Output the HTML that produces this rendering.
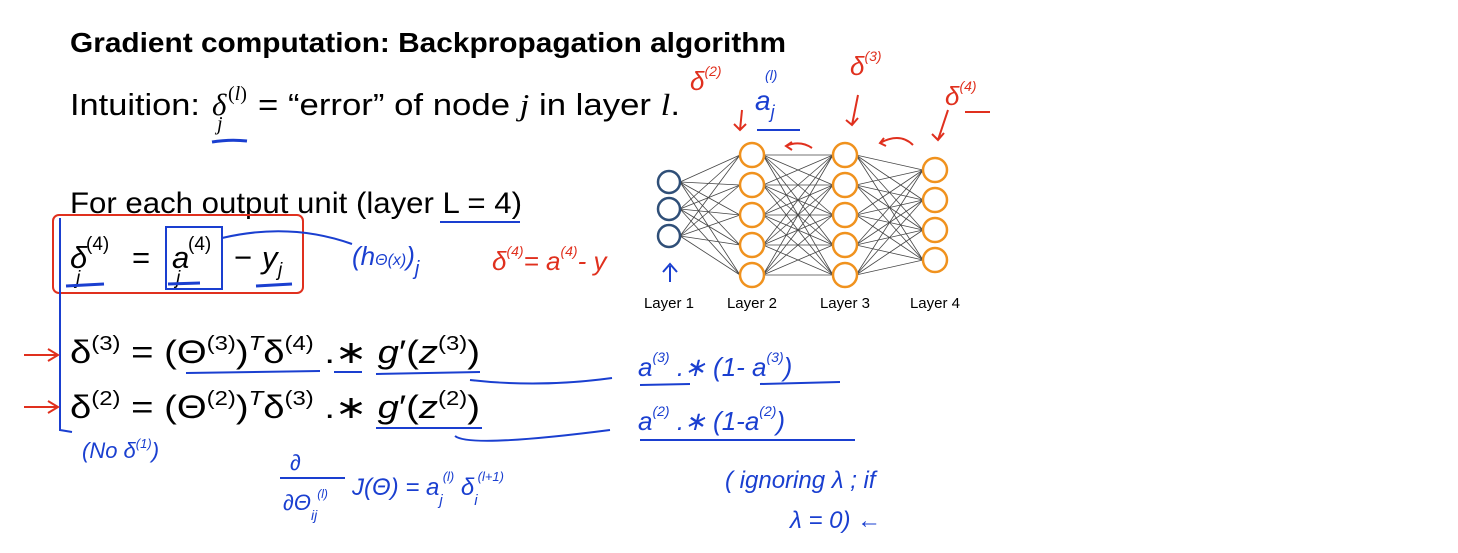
<!DOCTYPE html>
<html><head><meta charset="utf-8"><style>
body{margin:0;background:#fff;width:1458px;height:548px;overflow:hidden}
svg text{font-family:"Liberation Sans",sans-serif}
.m{font-family:"Liberation Serif",serif}
</style></head><body>
<svg width="1458" height="548" xmlns="http://www.w3.org/2000/svg">
<rect width="1458" height="548" fill="#fff"/>
<text x="70" y="52" font-size="28" font-weight="bold" fill="#000" textLength="716" lengthAdjust="spacingAndGlyphs">Gradient computation: Backpropagation algorithm</text>
<g font-size="31" fill="#000">
<text x="70" y="115" textLength="130" lengthAdjust="spacingAndGlyphs">Intuition:</text>
<text class="m" x="212" y="115" font-style="italic">δ</text>
<text class="m" x="217" y="130" font-size="20" font-style="italic">j</text>
<text class="m" x="228" y="100" font-size="20">(<tspan font-style="italic">l</tspan>)</text>
<text x="258" y="115" textLength="422" lengthAdjust="spacingAndGlyphs">= “error” of node <tspan class="m" font-style="italic">j</tspan> in layer <tspan class="m" font-style="italic">l</tspan>.</text>
</g>
<path d="M212 142 Q230 139 247 141" stroke="#1a3fd0" stroke-width="3" fill="none"/>
<text x="70" y="213" font-size="30" fill="#000" textLength="452" lengthAdjust="spacingAndGlyphs">For each output unit (layer L = 4)</text>
<path d="M440 222 L520 222" stroke="#1a3fd0" stroke-width="2" fill="none"/>
<g class="m" font-size="31" fill="#000">
<text x="70" y="268" font-style="italic">δ</text><text x="76" y="284" font-size="19" font-style="italic">j</text><text x="86" y="250" font-size="19">(4)</text>
<text x="132" y="268">=</text>
<text x="172" y="268" font-style="italic">a</text><text x="176" y="284" font-size="19" font-style="italic">j</text><text x="188" y="250" font-size="19">(4)</text>
<text x="234" y="268">−</text><text x="262" y="268" font-style="italic">y</text><text x="278" y="276" font-size="19" font-style="italic">j</text>
</g>
<rect x="53" y="215" width="250" height="78" rx="6" fill="none" stroke="#e0301e" stroke-width="2"/>
<rect x="166" y="227" width="56" height="62" fill="none" stroke="#1a3fd0" stroke-width="2"/>
<path d="M60 218 L60 430 L72 432" stroke="#1a3fd0" stroke-width="2" fill="none"/>
<g stroke-width="3" fill="none"><path d="M66 286 L104 284" stroke="#1a3fd0"/><path d="M168 284 L200 283" stroke="#1a3fd0"/><path d="M256 286 L292 284" stroke="#1a3fd0"/></g>
<path d="M222 238 Q290 222 352 244" stroke="#1a3fd0" stroke-width="2" fill="none"/>
<text x="352" y="265" font-size="26" fill="#1a3fd0" font-style="italic">(h<tspan font-size="16">Θ</tspan><tspan font-size="16">(x)</tspan>)<tspan dy="10" font-size="20">j</tspan></text>
<text x="492" y="270" font-size="26" fill="#e0301e" font-style="italic">δ<tspan dy="-14" font-size="14">(4)</tspan><tspan dy="14">= a</tspan><tspan dy="-14" font-size="14">(4)</tspan><tspan dy="14">- y</tspan></text>
<g class="m" font-size="32" fill="#000">
<text x="70" y="363" textLength="410" lengthAdjust="spacingAndGlyphs">δ<tspan dy="-13" font-size="20">(3)</tspan><tspan dy="13"> = (Θ</tspan><tspan dy="-13" font-size="20">(3)</tspan><tspan dy="13">)</tspan><tspan dy="-13" font-size="20" font-style="italic">T</tspan><tspan dy="13">δ</tspan><tspan dy="-13" font-size="20">(4)</tspan><tspan dy="13"> .∗ </tspan><tspan font-style="italic">g</tspan>′(<tspan font-style="italic">z</tspan><tspan dy="-13" font-size="20">(3)</tspan><tspan dy="13">)</tspan></text>
<text x="70" y="418" textLength="410" lengthAdjust="spacingAndGlyphs">δ<tspan dy="-13" font-size="20">(2)</tspan><tspan dy="13"> = (Θ</tspan><tspan dy="-13" font-size="20">(2)</tspan><tspan dy="13">)</tspan><tspan dy="-13" font-size="20" font-style="italic">T</tspan><tspan dy="13">δ</tspan><tspan dy="-13" font-size="20">(3)</tspan><tspan dy="13"> .∗ </tspan><tspan font-style="italic">g</tspan>′(<tspan font-style="italic">z</tspan><tspan dy="-13" font-size="20">(2)</tspan><tspan dy="13">)</tspan></text>
</g>
<g stroke="#1a3fd0" stroke-width="2" fill="none">
<path d="M186 373 L320 371 M334 372 L362 372 M376 374 L480 372"/>
<path d="M376 428 L482 428 M455 436 Q470 448 610 430"/>
<path d="M470 380 Q540 388 612 378"/>
<path d="M640 385 L690 384 M760 384 L840 382 M640 440 L855 440"/>
</g>
<g stroke="#e0301e" stroke-width="2" fill="none">
<path d="M24 355 L58 355 M48 349 L58 355 L48 361"/>
<path d="M24 407 L58 407 M48 401 L58 407 L48 413"/>
</g>
<text x="638" y="376" font-size="26" fill="#1a3fd0" font-style="italic">a<tspan dy="-14" font-size="14">(3)</tspan><tspan dy="14"> .∗ (1- a</tspan><tspan dy="-14" font-size="14">(3)</tspan><tspan dy="14">)</tspan></text>
<text x="638" y="430" font-size="26" fill="#1a3fd0" font-style="italic">a<tspan dy="-14" font-size="14">(2)</tspan><tspan dy="14"> .∗ (1-a</tspan><tspan dy="-14" font-size="14">(2)</tspan><tspan dy="14">)</tspan></text>
<text x="82" y="458" font-size="22" fill="#1a3fd0" font-style="italic">(No      δ<tspan dy="-10" font-size="13">(1)</tspan><tspan dy="10">)</tspan></text>
<g fill="#1a3fd0" font-style="italic">
<text x="290" y="470" font-size="22">∂</text>
<path d="M280 478 L345 478" stroke="#1a3fd0" stroke-width="2"/>
<text x="283" y="510" font-size="22">∂Θ<tspan dy="10" font-size="14">ij</tspan><tspan dy="-22" font-size="12">(l)</tspan></text>
<text x="352" y="495" font-size="24">J(Θ)  =  a<tspan dy="10" font-size="15">j</tspan><tspan dy="-24" font-size="13">(l)</tspan><tspan dy="14"> δ</tspan><tspan dy="10" font-size="15">i</tspan><tspan dy="-24" font-size="13">(l+1)</tspan></text>
</g>
<text x="725" y="488" font-size="24" fill="#1a3fd0" font-style="italic">( ignoring λ ;  if</text>
<text x="790" y="528" font-size="24" fill="#1a3fd0" font-style="italic">λ = 0)  ←</text>
<g id="net"></g>
<g fill="#e0301e" font-style="italic" font-size="26">
<text x="690" y="90">δ<tspan dy="-14" font-size="14">(2)</tspan></text>
<text x="850" y="75">δ<tspan dy="-14" font-size="14">(3)</tspan></text>
<text x="945" y="105">δ<tspan dy="-14" font-size="14">(4)</tspan></text>
</g>
<text x="755" y="110" font-size="28" fill="#1a3fd0" font-style="italic">a<tspan dy="8" font-size="18">j</tspan><tspan x="765" y="80" font-size="14">(l)</tspan></text>
<path d="M757 130 L800 130" stroke="#1a3fd0" stroke-width="2"/>
<g stroke="#e0301e" stroke-width="2" fill="none">
<path d="M742 110 L740 130 M734 124 L740 130 L746 124"/>
<path d="M858 95 L852 125 M846 120 L852 125 L858 118"/>
<path d="M948 110 L938 140 M932 134 L938 140 L944 133"/>
<path d="M965 112 L990 112"/>
<path d="M812 148 Q800 140 786 146 M792 142 L786 146 L792 150"/>
<path d="M913 145 Q900 132 880 143 M884 138 L880 143 L886 146"/>
</g>
<path d="M670 266 L670 282 M663 272 L670 264 L677 272" stroke="#1a3fd0" stroke-width="2" fill="none"/>
<script>
const layerX=[669,752,845,935];
const layerY=[[182,209,236],[155,185,215,245,275],[155,185,215,245,275],[170,200,230,260]];
const layerNames=["Layer 1","Layer 2","Layer 3","Layer 4"];
const ns="http://www.w3.org/2000/svg",g=document.getElementById('net');
for(let l=0;l<3;l++)for(const y1 of layerY[l])for(const y2 of layerY[l+1]){
const ln=document.createElementNS(ns,'line');


ln.setAttribute('x1',layerX[l]+11);ln.setAttribute('y1',y1);ln.setAttribute('x2',layerX[l+1]-12);ln.setAttribute('y2',y2);
ln.setAttribute('stroke','#444');ln.setAttribute('stroke-width','0.8');g.appendChild(ln);}
layerY.forEach((ys,l)=>{ys.forEach(y=>{const c=document.createElementNS(ns,'circle');


c.setAttribute('cx',layerX[l]);c.setAttribute('cy',y);c.setAttribute('r',l==0?11:12);
c.setAttribute('fill','#fff');c.setAttribute('stroke',l==0?'#2f4f78':'#f0921e');c.setAttribute('stroke-width','2.5');g.appendChild(c);});
const t=document.createElementNS(ns,'text');


t.setAttribute('x',layerX[l]);t.setAttribute('y',308);t.setAttribute('text-anchor','middle');t.setAttribute('font-size','15');t.textContent=layerNames[l];g.appendChild(t);});
</script>
</svg>
</body></html>
